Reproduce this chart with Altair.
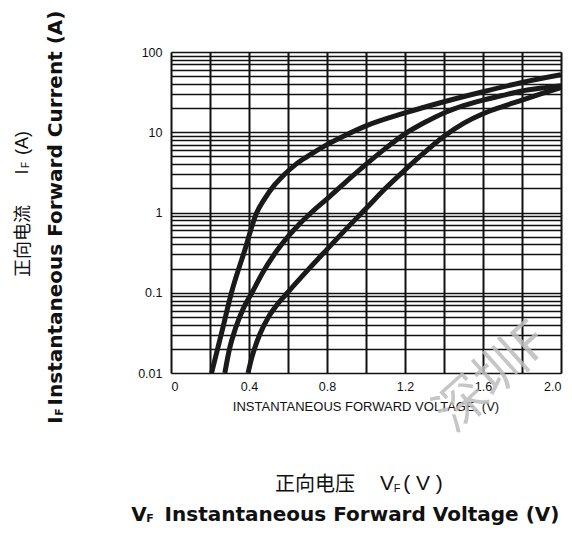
import altair as alt
import pandas as pd

# ---- data ----
curve_a_v = [0.208, 0.26, 0.31, 0.375, 0.44, 0.48, 0.53, 0.58, 0.64, 0.7, 0.8, 0.9, 1.0, 1.2, 1.4, 1.6, 1.8, 2.0]
curve_a_i = [0.01, 0.032, 0.1, 0.32, 1.0, 1.48, 2.19, 2.95, 3.98, 5.0, 7.0, 9.3, 12.0, 17.4, 24, 32, 41.7, 52]

curve_b_v = [0.276, 0.30, 0.33, 0.37, 0.415, 0.47, 0.53, 0.6, 0.66, 0.72, 0.8, 0.9, 1.0, 1.1, 1.2, 1.3, 1.4, 1.5, 1.6, 1.7, 1.8, 1.9, 2.0]
curve_b_i = [0.01, 0.02, 0.0355, 0.063, 0.1, 0.178, 0.302, 0.5, 0.724, 1.0, 1.48, 2.45, 3.98, 6.3, 9.55, 13.2, 17.4, 21.4, 25.1, 28.8, 32.7, 35.5, 38]

curve_c_v = [0.395, 0.415, 0.435, 0.455, 0.5, 0.55, 0.6, 0.7, 0.8, 0.9, 1.0, 1.1, 1.2, 1.3, 1.4, 1.5, 1.6, 1.7, 1.8, 1.9, 2.0]
curve_c_i = [0.01, 0.0158, 0.0224, 0.0302, 0.05, 0.074, 0.102, 0.19, 0.347, 0.63, 1.12, 2.0, 3.39, 5.6, 8.9, 12.9, 17, 20.9, 25.1, 30.2, 36]

x_ticks = [0, 0.2, 0.4, 0.6, 0.8, 1.0, 1.2, 1.4, 1.6, 1.8, 2.0]
y_ticks = [0.01, 0.02, 0.03, 0.04, 0.05, 0.06, 0.07, 0.08, 0.09,
           0.1, 0.2, 0.3, 0.4, 0.5, 0.6, 0.7, 0.8, 0.9,
           1, 2, 3, 4, 5, 6, 7, 8, 9,
           10, 20, 30, 40, 50, 60, 70, 80, 90, 100]

rows = []
for name, vs, cs in [("a", curve_a_v, curve_a_i), ("b", curve_b_v, curve_b_i), ("c", curve_c_v, curve_c_i)]:
    for v, c in zip(vs, cs):
        rows.append({"curve": name, "V": v, "I": c})
df = pd.DataFrame(rows)

x_enc = alt.X("V:Q",
              scale=alt.Scale(domain=[0, 2.0], nice=False, zero=False),
              axis=alt.Axis(values=x_ticks, title=None, grid=True, gridColor="#111111", gridWidth=2,
                            gridOpacity=1, ticks=False, domain=False, labelPadding=7,
                            labelFont="Liberation Sans", labelFontSize=12.5, labelColor="#111111",
                            labelExpr="datum.value == 0 ? '0' : (round(datum.value*10) % 4 == 0 ? format(datum.value, '.1f') : '')"))
y_enc = alt.Y("I:Q",
              scale=alt.Scale(type="log", domain=[0.01, 100], nice=False),
              axis=alt.Axis(values=y_ticks, title=None, grid=True, gridColor="#111111", gridWidth=1.6,
                            gridOpacity=1, ticks=False, domain=False, labelPadding=9, format="~g",
                            labelFont="Liberation Sans", labelFontSize=12.5, labelColor="#111111",
                            labelExpr="(datum.value == 0.01 || datum.value == 0.1 || datum.value == 1 || datum.value == 10 || datum.value == 100) ? datum.label : ''"))

lines = alt.Chart(df).mark_line(color="#1a1a1a", strokeWidth=5, interpolate="monotone", clip=True).encode(
    x=x_enc, y=y_enc, detail="curve:N", order="V:Q")

one = pd.DataFrame({"k": [0]})

def txt(text, x, y, size, font="Liberation Sans", weight="normal", angle=0, color="#111111", align="center", baseline="middle", opacity=1.0):
    return alt.Chart(one).mark_text(text=text, font=font, fontSize=size, fontWeight=weight, angle=angle,
                                    color=color, align=align, baseline=baseline, opacity=opacity).encode(
        x=alt.value(x), y=alt.value(y))

texts = [
    # y titles
    txt("正向电流", -147, 189, 18, font="Noto Sans CJK SC", angle=270),
    txt("I", -148, 120, 18, angle=270),
    txt("F", -145, 113, 10, angle=270),
    txt("(A)", -148, 91, 18, angle=270),
    txt("I", -115, 368, 20, font="DejaVu Sans", weight="bold", angle=270),
    txt("F", -111, 360, 11, font="DejaVu Sans", weight="bold", angle=270),
    txt("Instantaneous Forward Current (A)", -115, 156, 20, font="DejaVu Sans", weight="bold", angle=270),
    # x axis caption
    txt("INSTANTANEOUS FORWARD VOLTAGE. (V)", 195, 355, 13),
    # bottom titles
    txt("正向电压", 144, 433, 20, font="Noto Sans CJK SC"),
    txt("V", 216, 432, 21),
    txt("F", 226, 437, 11),
    txt("( V )", 252, 432, 21),
    txt("V", -32, 463, 20, font="DejaVu Sans", weight="bold"),
    txt("F", -21, 467, 11, font="DejaVu Sans", weight="bold"),
    txt("Instantaneous Forward Voltage (V)", 191, 463, 20, font="DejaVu Sans", weight="bold"),
    # watermark
    txt("深圳F", 283, 382, 52, font="Noto Sans CJK SC", angle=318, color="#bdbdbd", align="left",
        baseline="alphabetic", opacity=0.85),
]

chart = alt.layer(lines, *texts).properties(
    width=390, height=321,
    autosize=alt.AutoSizeParams(type="none"),
    padding={"left": 163, "top": 44, "right": 3, "bottom": 154},
).configure_view(stroke="#111111", strokeWidth=3).configure(background="white")

chart.save("out.html", embed_options={"renderer": "svg", "actions": False})
